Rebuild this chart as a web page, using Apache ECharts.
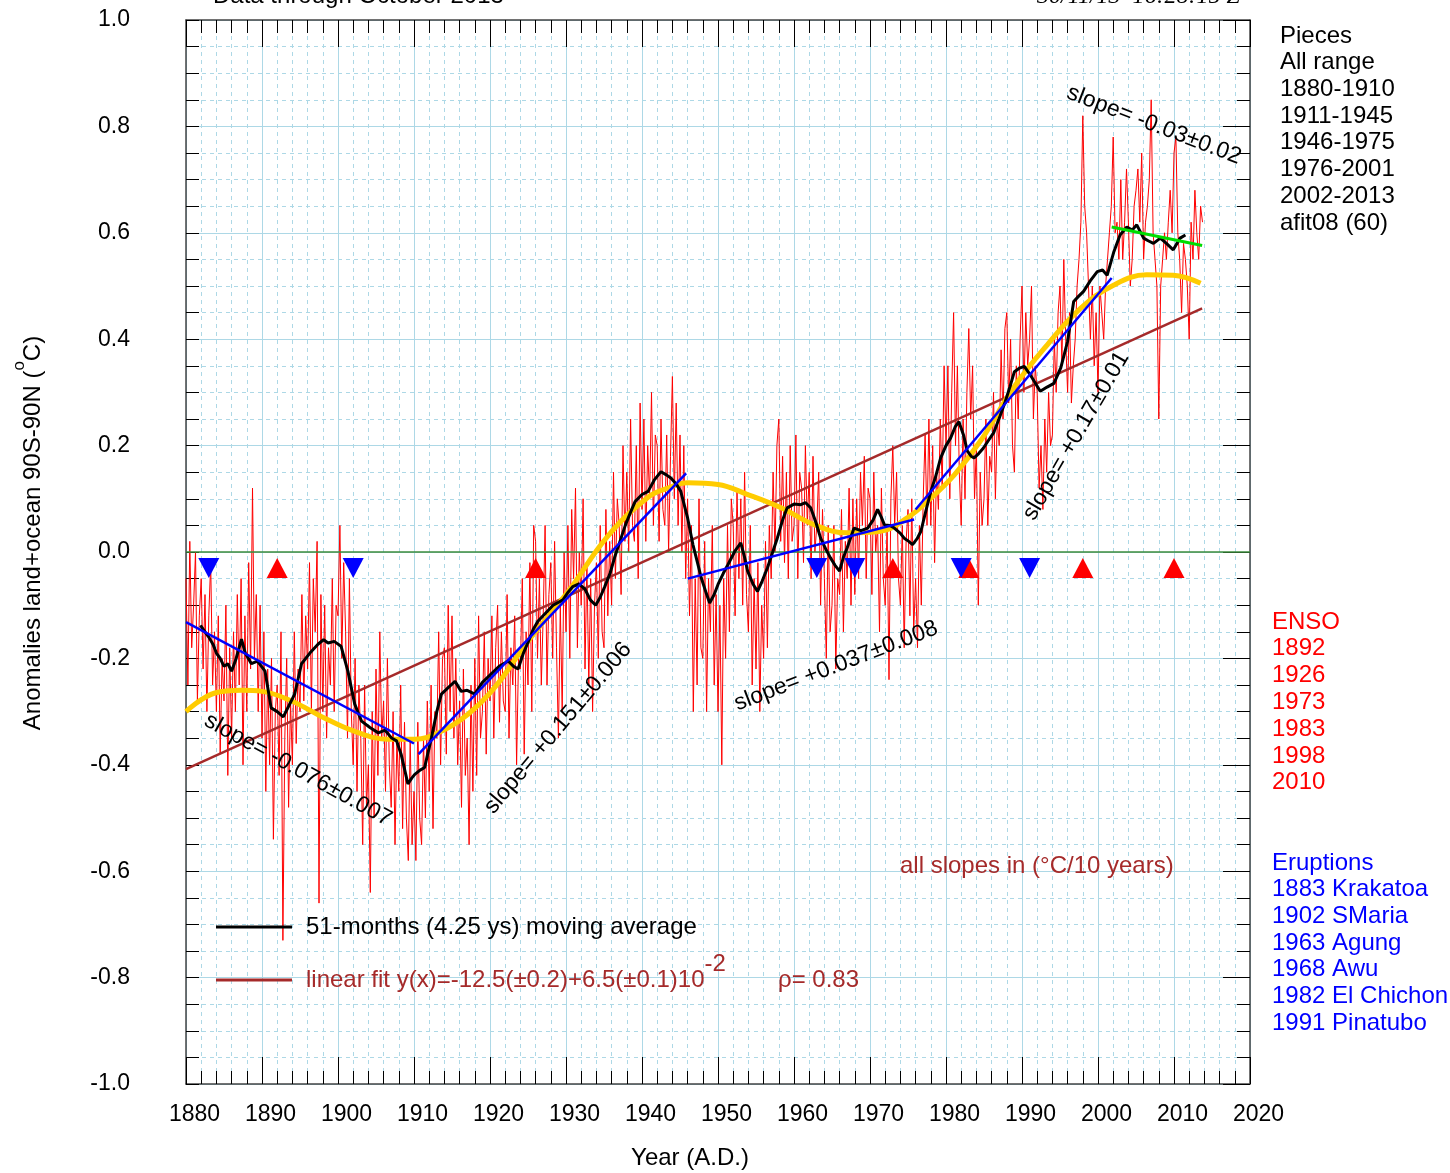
<!DOCTYPE html>
<html>
<head>
<meta charset="utf-8">
<script src="https://cdn.jsdelivr.net/npm/echarts@6/dist/echarts.min.js"></script>
<style>
html, body { margin: 0; padding: 0; background: #fff; }
#chart { width: 1450px; height: 1173px; }
</style>
</head>
<body>
<div id="chart"></div>
<script>
// monthly anomalies at quarter-year steps from 1880.0
const startYear = 1880;
const anomalies = [
  -0.05, -0.25, 0.02, -0.18,   -0.10, 0.00, -0.28, -0.12,   -0.05, -0.22, -0.08, -0.30,   -0.12, -0.02, -0.25, -0.15,
  -0.30, -0.12, -0.38, -0.20,   -0.28, -0.10, -0.42, -0.18,   -0.35, -0.15, -0.30, -0.08,   -0.25, -0.05, -0.40, -0.12,
  -0.30, -0.02, -0.22, 0.12,    -0.20, -0.08, -0.30, -0.10,   -0.35, -0.15, -0.45, -0.22,   -0.40, -0.20, -0.54, -0.30,
  -0.25, -0.42, -0.15, -0.73,   -0.35, -0.20, -0.48, -0.28,   -0.40, -0.15, -0.36, -0.22,   -0.30, -0.08, -0.28, -0.12,
  -0.22, -0.02, -0.30, -0.05,   -0.15, 0.02, -0.66, -0.08,    -0.30, -0.10, -0.35, -0.18,   -0.25, -0.05, -0.30, -0.10,
  -0.12, 0.05, -0.20, -0.02,    -0.15, -0.35, -0.05, -0.30,   -0.40, -0.20, -0.45, -0.25,   -0.35, -0.55, -0.25, -0.48,
  -0.40, -0.64, -0.30, -0.50,   -0.22, -0.42, -0.15, -0.35,   -0.28, -0.45, -0.20, -0.40,   -0.48, -0.30, -0.55, -0.35,
  -0.45, -0.25, -0.52, -0.32,   -0.50, -0.58, -0.35, -0.55,   -0.45, -0.58, -0.32, -0.50,   -0.55, -0.35, -0.50, -0.28,
  -0.45, -0.25, -0.52, -0.30,   -0.35, -0.15, -0.40, -0.20,   -0.18, -0.38, -0.10, -0.30,   -0.12, -0.35, -0.20, -0.40,
  -0.28, -0.48, -0.22, -0.42,   -0.35, -0.55, -0.25, -0.45,   -0.20, -0.42, -0.12, -0.35,   -0.30, -0.15, -0.38, -0.20,
  -0.28, -0.12, -0.35, -0.18,   -0.10, -0.32, -0.15, -0.28,   -0.30, -0.08, -0.35, -0.18,   -0.25, -0.12, -0.40, -0.20,
  -0.22, -0.05, -0.38, -0.15,   -0.25, -0.02, -0.30, 0.05,    0.02, -0.20, -0.05, -0.25,    -0.12, 0.05, -0.25, -0.08,
  -0.02, -0.20, 0.02, -0.18,    -0.35, -0.10, -0.30, 0.00,    -0.15, 0.05, -0.20, 0.08,     -0.05, 0.12, -0.18, 0.00,
  -0.10, 0.10, -0.22, -0.02,    -0.25, -0.05, -0.30, -0.10,   -0.02, -0.20, 0.05, -0.15,    -0.18, 0.08, -0.12, 0.02,
  -0.10, 0.15, -0.05, 0.10,     0.05, -0.08, 0.20, 0.02,      0.15, 0.00, 0.25, 0.05,       0.02, 0.20, -0.05, 0.28,
  0.08, 0.25, 0.02, 0.20,       0.10, 0.30, 0.05, 0.22,       0.20, 0.02, 0.25, 0.08,       0.05, 0.22, 0.00, 0.18,
  0.33, 0.10, 0.28, 0.05,       0.22, 0.00, 0.20, -0.05,      0.10, -0.12, 0.05, -0.30,     -0.05, -0.25, 0.10, -0.18,
  -0.20, 0.02, -0.30, -0.05,    -0.15, 0.05, -0.25, -0.08,    -0.30, -0.10, -0.40, -0.05,   -0.20, 0.05, -0.15, 0.10,
  0.05, -0.12, 0.12, -0.05,     0.10, -0.10, 0.15, -0.08,     -0.15, 0.05, -0.25, -0.05,    -0.22, -0.02, -0.30, -0.10,
  -0.20, 0.02, -0.18, 0.05,     -0.05, 0.15, 0.00, 0.20,      0.25, 0.02, 0.18, -0.02,      0.15, -0.05, 0.20, 0.02,
  0.05, 0.22, -0.05, 0.15,      0.12, -0.02, 0.20, 0.05,      0.15, -0.05, 0.18, 0.00,      0.05, 0.15, -0.10, 0.08,
  -0.05, -0.20, 0.05, -0.15,    -0.10, 0.05, -0.22, -0.05,    -0.08, 0.08, -0.15, 0.02,     -0.05, 0.12, -0.10, 0.10,
  -0.08, 0.10, -0.05, 0.15,     0.05, 0.18, -0.05, 0.12,      0.10, -0.08, 0.15, 0.00,      0.05, -0.15, 0.12, -0.05,
  -0.10, 0.05, -0.24, 0.10,     0.20, 0.05, 0.15, -0.05,      -0.10, 0.05, -0.18, 0.02,     0.08, -0.12, 0.10, -0.15,
  -0.05, -0.18, 0.05, -0.10,    0.10, 0.22, 0.05, 0.25,       0.05, 0.20, -0.02, 0.15,      0.08, 0.25, 0.12, 0.35,
  0.20, 0.35, 0.10, 0.30,       0.45, 0.20, 0.35, 0.15,       0.05, 0.25, 0.10, 0.30,       0.42, 0.25, 0.35, 0.10,
  0.20, -0.10, 0.15, 0.05,      0.10, 0.25, 0.05, 0.18,       0.15, 0.30, 0.10, 0.25,       0.20, 0.38, 0.25, 0.42,
  0.45, 0.28, 0.40, 0.20,       0.15, 0.35, 0.25, 0.40,       0.50, 0.30, 0.45, 0.35,       0.40, 0.50, 0.25, 0.35,
  0.30, 0.12, 0.20, 0.08,       0.25, 0.15, 0.30, 0.20,       0.22, 0.40, 0.30, 0.45,       0.50, 0.35, 0.55, 0.40,
  0.30, 0.45, 0.28, 0.35,       0.40, 0.50, 0.55, 0.62,       0.82, 0.65, 0.60, 0.50,       0.40, 0.50, 0.35, 0.45,
  0.30, 0.50, 0.45, 0.40,       0.50, 0.55, 0.60, 0.65,       0.78, 0.60, 0.62, 0.55,       0.70, 0.55, 0.62, 0.72,
  0.62, 0.50, 0.55, 0.65,       0.68, 0.72, 0.62, 0.75,       0.55, 0.62, 0.65, 0.70,       0.85, 0.60, 0.55, 0.50,
  0.25, 0.50, 0.55, 0.60,       0.55, 0.62, 0.68, 0.60,       0.75, 0.78, 0.60, 0.55,       0.45, 0.58, 0.55, 0.50,
  0.40, 0.62, 0.55, 0.68,       0.60, 0.55, 0.65, 0.62
];

// 51-month moving average [year, value]
const movingAvg = [
  [1881.9,-0.138],[1882.5,-0.15],[1883,-0.16],[1883.6,-0.175],[1884,-0.19],[1884.5,-0.2],[1885,-0.215],
  [1885.5,-0.21],[1886,-0.224],[1886.6,-0.2],[1887.3,-0.164],[1887.8,-0.19],[1888.6,-0.21],[1889.4,-0.205],
  [1890.4,-0.224],[1891.2,-0.293],[1892,-0.3],[1892.8,-0.31],[1893.5,-0.29],[1894.3,-0.267],[1895.2,-0.21],
  [1896.3,-0.19],[1897.4,-0.173],[1898.1,-0.165],[1898.7,-0.171],[1899.5,-0.168],[1900.4,-0.177],[1901.3,-0.224],
  [1902.2,-0.286],[1903.1,-0.318],[1904.2,-0.33],[1905.3,-0.34],[1906.2,-0.335],[1907,-0.349],[1907.7,-0.355],
  [1908.3,-0.38],[1909.2,-0.436],[1909.7,-0.425],[1910.1,-0.418],[1910.8,-0.41],[1911.4,-0.405],[1912.3,-0.349],
  [1913,-0.3],[1913.6,-0.267],[1914.5,-0.255],[1915.4,-0.243],[1916.2,-0.262],[1917,-0.26],[1918,-0.267],
  [1919,-0.245],[1920.1,-0.23],[1921.2,-0.215],[1922.4,-0.205],[1923.1,-0.215],[1923.7,-0.22],[1924.4,-0.19],
  [1925,-0.17],[1925.7,-0.145],[1926.3,-0.13],[1927.3,-0.115],[1928.3,-0.10],[1929.6,-0.09],[1930.3,-0.075],
  [1930.9,-0.065],[1931.7,-0.06],[1932.5,-0.07],[1933.2,-0.09],[1933.9,-0.10],[1934.5,-0.085],[1935.1,-0.065],
  [1935.8,-0.04],[1936.4,-0.01],[1937.1,0.02],[1937.8,0.05],[1938.5,0.075],[1939.1,0.095],[1940,0.108],
  [1940.8,0.114],[1941.6,0.135],[1942.5,0.151],[1943.2,0.145],[1943.8,0.139],[1944.5,0.128],[1945.1,0.114],
  [1946,0.064],[1946.7,0.014],[1947.3,-0.02],[1947.8,-0.049],[1948.4,-0.075],[1948.9,-0.096],[1949.5,-0.08],
  [1950,-0.061],[1950.7,-0.04],[1951.3,-0.024],[1952.2,0.001],[1953,0.017],[1953.5,-0.01],[1953.9,-0.036],
  [1954.6,-0.06],[1955.2,-0.074],[1955.8,-0.055],[1956.5,-0.03],[1957.2,0.0],[1957.8,0.026],[1958.5,0.06],
  [1959.1,0.083],[1960,0.09],[1960.9,0.089],[1961.5,0.093],[1962.2,0.083],[1962.9,0.055],[1963.5,0.026],
  [1964.2,0.005],[1964.8,-0.011],[1965.4,-0.025],[1966,-0.036],[1966.5,-0.01],[1967,0.008],[1967.9,0.045],
  [1968.8,0.04],[1969.7,0.045],[1970.4,0.06],[1971,0.08],[1971.5,0.065],[1971.9,0.051],[1972.6,0.05],
  [1973.2,0.045],[1974,0.035],[1974.5,0.026],[1975.1,0.02],[1975.6,0.014],[1976.2,0.025],[1976.7,0.039],
  [1977.4,0.08],[1978,0.114],[1978.6,0.14],[1979.3,0.177],[1980,0.2],[1980.6,0.214],[1981.2,0.235],
  [1981.7,0.245],[1982.3,0.22],[1982.8,0.19],[1983.3,0.18],[1983.7,0.177],[1984.3,0.185],[1984.9,0.195],
  [1985.6,0.21],[1986.3,0.225],[1987.1,0.255],[1987.8,0.283],[1988.4,0.31],[1989,0.339],[1989.6,0.345],
  [1990.3,0.349],[1991,0.335],[1991.6,0.321],[1992.4,0.302],[1993.3,0.31],[1994.2,0.317],[1995.1,0.346],
  [1996,0.396],[1996.8,0.471],[1997.4,0.48],[1998.1,0.49],[1999,0.51],[1999.9,0.527],[2000.6,0.53],
  [2001.2,0.52],[2002.1,0.565],[2002.9,0.596],[2003.8,0.611],[2004.5,0.605],[2005.1,0.615],[2006,0.59],
  [2006.6,0.585],[2007.3,0.58],[2008.2,0.59],[2009,0.58],[2009.9,0.568],[2010.8,0.59],[2011.5,0.596]
];

// afit08 (60) smooth curve
const smoothFit = [
  [1880,-0.30],[1883.8,-0.265],[1887.3,-0.26],[1890,-0.262],[1893.9,-0.28],[1897.8,-0.309],[1902.2,-0.337],
  [1906.6,-0.352],[1910.1,-0.352],[1913.6,-0.337],[1917.1,-0.305],[1920.6,-0.255],[1925,-0.168],[1930.3,-0.074],
  [1935.5,0.03],[1940.8,0.103],[1943.4,0.12],[1946,0.13],[1950,0.127],[1953.9,0.108],[1958.3,0.083],
  [1962.7,0.051],[1967,0.036],[1971.4,0.039],[1974.9,0.064],[1978,0.101],[1981.1,0.145],[1984.6,0.21],
  [1989,0.311],[1993.3,0.389],[1997.7,0.458],[2002.1,0.502],[2006.4,0.521],[2009.9,0.52],[2013.5,0.505]
];

// piecewise linear trends
const pieceYears  = [[1880, 1910], [1910.6, 1945.8], [1946, 1975.8], [1976, 2001.8]];
const pieceValues = [[-0.132, -0.36], [-0.38, 0.148], [-0.05, 0.061], [0.08, 0.515]];
const lastPiece = [[2001.8, 0.611], [2013.7, 0.576]];
const linearFit = [[1880, -0.408], [2013.7, 0.458]];

const ensoYears = [1892, 1926, 1973, 1983, 1998, 2010];
const eruptionYears = [1883, 1902, 1963, 1968, 1982, 1991];
const markerLevel = -0.03;

const piecesList = ['Pieces', 'All range', '1880-1910', '1911-1945', '1946-1975', '1976-2001', '2002-2013', 'afit08 (60)'];
const ensoList = ['ENSO', '1892', '1926', '1973', '1983', '1998', '2010'];
const eruptionList = ['Eruptions', '1883 Krakatoa', '1902 SMaria', '1963 Agung', '1968 Awu', '1982 El Chichon', '1991 Pinatubo'];

const FONT = '"Liberation Sans", Arial, sans-serif';
const GRIDC = '#add8e6';

const chart = echarts.init(document.getElementById('chart'));

function txt(x, y, text, color, extra) {
  return Object.assign({
    type: 'text', x: x, y: y, z: 100,
    style: Object.assign({ text: text, fill: color || '#000', font: '24px ' + FONT, align: 'left', verticalAlign: 'middle' }, (extra && extra.style) || {})
  }, extra ? { rotation: extra.rotation || 0 } : {});
}
function slopeTxt(cx, cy, text, deg) {
  return txt(cx, cy, text, '#000', { rotation: deg * Math.PI / 180, style: { align: 'center', font: '23px ' + FONT } });
}

const graphics = [];
piecesList.forEach((s, i) => graphics.push(txt(1280, 36 + i * 26.7, s, '#000')));
ensoList.forEach((s, i) => graphics.push(txt(1272, 622 + i * 26.8, s, '#ff0000')));
eruptionList.forEach((s, i) => graphics.push(txt(1272, 863 + i * 26.7, s, '#0000ff')));
graphics.push(txt(213, -4, 'Data through October 2013', '#000'));
graphics.push(txt(1037, -3, '30/11/13  16:28:15 Z', '#000', { style: { font: 'italic 24px "Liberation Serif", serif' } }));
graphics.push(txt(690, 1158, 'Year (A.D.)', '#000', { style: { align: 'center' } }));
graphics.push({
  type: 'text', x: 28, y: 533, rotation: Math.PI / 2, z: 100,
  style: {
    text: '{a|Anomalies land+ocean 90S-90N (}{s|o}{a|C)}', align: 'center', verticalAlign: 'middle',
    rich: { a: { font: '24px ' + FONT, fill: '#000', lineHeight: 34, verticalAlign: 'bottom' },
            s: { font: '17px ' + FONT, fill: '#000', lineHeight: 17, verticalAlign: 'top' } }
  }
});
graphics.push(slopeTxt(298, 770, 'slope= -0.076±0.007', -29));
graphics.push(slopeTxt(558, 728, 'slope= +0.151±0.006', 50));
graphics.push(slopeTxt(836, 666, 'slope= +0.037±0.008', 21));
graphics.push(slopeTxt(1076, 436, 'slope= +0.17±0.01', 60));
graphics.push(slopeTxt(1154, 125, 'slope= -0.03±0.02', -21));
graphics.push(txt(900, 866, 'all slopes in (°C/10 years)', '#a52a2a'));
// legend
graphics.push({ type: 'line', z: 100, shape: { x1: 216, y1: 927, x2: 292, y2: 927 }, style: { stroke: '#000', lineWidth: 3 } });
graphics.push(txt(306, 927, '51-months (4.25 ys) moving average', '#000'));
graphics.push({ type: 'line', z: 100, shape: { x1: 216, y1: 980, x2: 292, y2: 980 }, style: { stroke: '#a52a2a', lineWidth: 3 } });
graphics.push({
  type: 'text', x: 306, y: 972, z: 100,
  style: {
    text: '{a|linear fit y(x)=-12.5(±0.2)+6.5(±0.1)10}{s|-2}', align: 'left', verticalAlign: 'middle',
    rich: { a: { font: '24px ' + FONT, fill: '#a52a2a', lineHeight: 40, verticalAlign: 'bottom' },
            s: { font: '24px ' + FONT, fill: '#a52a2a', lineHeight: 24, verticalAlign: 'top' } }
  }
});
graphics.push(txt(778, 980, 'ρ= 0.83', '#a52a2a'));

const lineBase = { type: 'line', showSymbol: false, symbol: 'none', animation: false, silent: true };

const series = [
  Object.assign({}, lineBase, {
    name: 'monthly', data: anomalies.map((v, i) => [startYear + i / 4, v]),
    lineStyle: { color: '#ff0000', width: 1 }, z: 2
  }),
  Object.assign({}, lineBase, {
    name: 'zero', data: [[1880, 0], [2020, 0]], lineStyle: { color: '#3c8c3c', width: 1.5 }, z: 3
  }),
  Object.assign({}, lineBase, {
    name: 'linear fit', data: linearFit, lineStyle: { color: '#a52a2a', width: 2.5 }, z: 4
  }),
  Object.assign({}, lineBase, {
    name: 'afit08', data: smoothFit, smooth: 0.4, lineStyle: { color: '#ffcc00', width: 5 }, z: 5
  }),
  Object.assign({}, lineBase, {
    name: 'moving average', data: movingAvg, lineStyle: { color: '#000', width: 3 }, z: 6
  })
];
pieceYears.forEach((yrs, i) => {
  series.push(Object.assign({}, lineBase, {
    name: 'piece' + i, data: [[yrs[0], pieceValues[i][0]], [yrs[1], pieceValues[i][1]]],
    lineStyle: { color: '#0000ff', width: 2.5 }, z: 7
  }));
});
series.push(Object.assign({}, lineBase, {
  name: 'piece last', data: lastPiece, lineStyle: { color: '#00dd00', width: 3 }, z: 7
}));
series.push({
  type: 'scatter', name: 'ENSO', data: ensoYears.map(y => [y, markerLevel]),
  symbol: 'triangle', symbolSize: [21, 20], itemStyle: { color: '#ff0000', opacity: 1 }, z: 8, animation: false, silent: true
});
series.push({
  type: 'scatter', name: 'Eruptions', data: eruptionYears.map(y => [y, markerLevel]),
  symbol: 'triangle', symbolRotate: 180, symbolSize: [21, 20], itemStyle: { color: '#0000ff', opacity: 1 }, z: 9, animation: false, silent: true
});

const yFmt = v => (Math.abs(v) < 1e-9 ? 0 : v).toFixed(1);

chart.setOption({
  backgroundColor: '#fff',
  animation: false,
  grid: { left: 186, right: 200, top: 20, bottom: 89, show: false },
  xAxis: [
    {
      type: 'value', min: 1880, max: 2020, interval: 10, position: 'bottom',
      axisLine: { show: true, onZero: false, lineStyle: { color: '#444', width: 1.5 } },
      axisTick: { show: true, inside: true, length: 27, lineStyle: { color: '#000' } },
      minorTick: { show: true, splitNumber: 5, length: 13, lineStyle: { color: '#000' } },
      axisLabel: { color: '#000', fontSize: 23, fontFamily: FONT, margin: 19, padding: [0, 0, 0, 17], formatter: v => String(v) },
      splitLine: { show: true, lineStyle: { color: GRIDC, width: 1 } },
      minorSplitLine: { show: true, lineStyle: { color: GRIDC, width: 1, type: [4, 4] } }
    },
    {
      type: 'value', min: 1880, max: 2020, interval: 10, position: 'top',
      axisLine: { show: true, onZero: false, lineStyle: { color: '#444', width: 1.5 } },
      axisTick: { show: true, inside: true, length: 27, lineStyle: { color: '#000' } },
      minorTick: { show: true, splitNumber: 5, length: 13, lineStyle: { color: '#000' } },
      axisLabel: { show: false }, splitLine: { show: false }
    }
  ],
  yAxis: [
    {
      type: 'value', min: -1, max: 1, interval: 0.2, position: 'left',
      axisLine: { show: true, onZero: false, lineStyle: { color: '#444', width: 1.5 } },
      axisTick: { show: true, inside: true, length: 13, lineStyle: { color: '#000' } },
      minorTick: { show: true, splitNumber: 4, length: 13, lineStyle: { color: '#000' } },
      axisLabel: { color: '#000', fontSize: 23, fontFamily: FONT, margin: 56, formatter: yFmt },
      splitLine: { show: true, lineStyle: { color: GRIDC, width: 1 } },
      minorSplitLine: { show: true, lineStyle: { color: GRIDC, width: 1, type: [4, 4] } }
    },
    {
      type: 'value', min: -1, max: 1, interval: 0.2, position: 'right',
      axisLine: { show: true, onZero: false, lineStyle: { color: '#444', width: 1.5 } },
      axisTick: { show: true, inside: true, length: 27, lineStyle: { color: '#000' } },
      minorTick: { show: true, splitNumber: 4, length: 13, lineStyle: { color: '#000' } },
      axisLabel: { show: false }, splitLine: { show: false }
    }
  ],
  series: series,
  graphic: graphics
});
</script>
</body>
</html>
